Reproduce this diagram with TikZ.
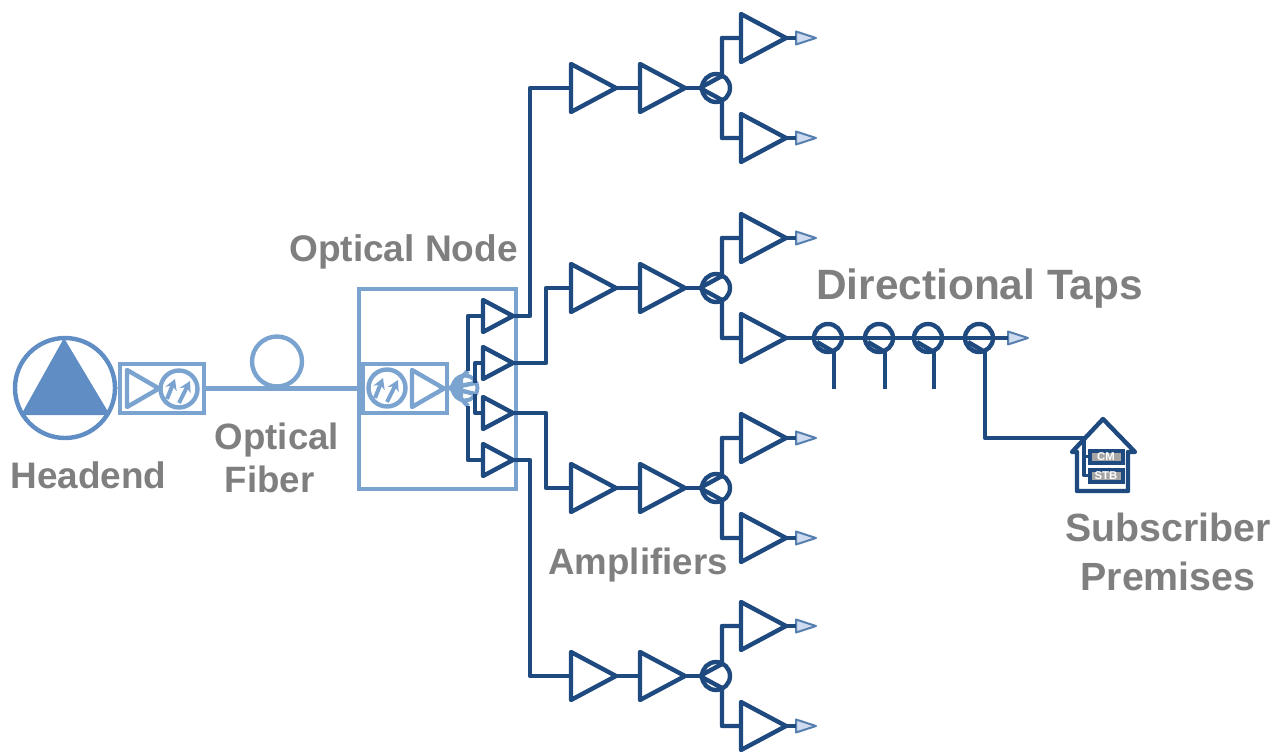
\documentclass[tikz,border=0pt]{standalone}
\usepackage{fontspec}
\setmainfont{Liberation Sans}
\usetikzlibrary{shapes.geometric,arrows.meta}
\definecolor{dkc}{HTML}{1F4A80}
\definecolor{ltc}{HTML}{7BA3CF}
\definecolor{mdc}{HTML}{5F8DC4}
\definecolor{tapf}{HTML}{CFDCEF}
\definecolor{labc}{HTML}{7F7F7F}
\tikzset{
  tri/.style={isosceles triangle,isosceles triangle apex angle=60,isosceles triangle stretches,inner sep=0pt,outer sep=0pt,shape border rotate=0,draw,line join=round},
  amp/.style={tri,draw=dkc,line width=3.3pt,minimum height=45*0.75pt,minimum width=48*0.75pt},
  namp/.style={tri,draw=dkc,line width=3.3pt,minimum height=30*0.75pt,minimum width=32*0.75pt},
  tapend/.style={tri,draw=ltc!60!dkc,fill=tapf,line width=1.5pt,minimum height=20*0.75pt,minimum width=13*0.75pt},
  ring/.style={circle,draw=dkc,line width=3.3pt,inner sep=0pt,minimum size=28*0.75pt},
  dkl/.style={draw=dkc,line width=3.3pt,line join=round},
  ltl/.style={draw=ltc,line width=3.3pt,line join=round},
  lbl/.style={text=labc,inner sep=0pt,align=center},
  dettri/.style={tri,draw=ltc,line width=3.3pt,minimum height=32*0.75pt,minimum width=37*0.75pt},
  det/.style={circle,draw=ltc,line width=3.3pt,inner sep=0pt,minimum size=37*0.75pt},
  ltbox/.style={rectangle,draw=ltc,line width=3.3pt,inner sep=0pt},
  pinbox/.style={rectangle,draw=dkc,line width=3pt,fill=labc!70,inner sep=0pt,minimum width=33*0.75pt,minimum height=12*0.75pt,text=white,font=\bfseries\fontsize{8.5}{9}\selectfont}
}
\newcommand{\detector}[3]{%
  \node[det] (#1) at (#2,#3) {};
  \draw[draw=ltc,line width=3pt,-{Stealth[length=8pt,width=9pt]}] (#2-12,#3+10) -- (#2-4,#3-10);
  \draw[draw=ltc,line width=3pt,-{Stealth[length=8pt,width=9pt]}] (#2,#3+14) -- (#2+11,#3-8);
}
\newcommand{\branch}[2]{%
  \node[amp,anchor=west] (a#1) at (571,#2) {};
  \node[amp,anchor=west] (b#1) at (640,#2) {};
  \node[ring] (s#1) at (716,#2) {};
  \draw[dkl] (a#1.apex) -- (b#1.west);
  \draw[dkl] (b#1.apex) -- (s#1.west);
  \node[amp,anchor=west] (u#1) at (741,#2-50) {};
  \node[amp,anchor=west] (l#1) at (741,#2+50) {};
  \coordinate (sa#1) at (722,#2-12);
  \coordinate (sb#1) at (722,#2+12);
  \draw[dkl] (s#1.west) -- (sa#1) -- (722,#2-50) -- (u#1.west);
  \draw[dkl] (s#1.west) -- (sb#1) -- (722,#2+50) -- (l#1.west);
  \node[tapend,anchor=west] (tu#1) at (796,#2-50) {};
  \draw[dkl] (u#1.apex) -- (tu#1.west);
}
\newcommand{\dirtap}[2]{%
  \node[ring] (d#1) at (#2,338) {};
  \coordinate (di#1) at (#2+6,352);
  \draw[dkl] (#2-11,342) -- (di#1);
}
\begin{document}
\begin{tikzpicture}[x=0.75pt,y=-0.75pt]
\useasboundingbox (0,0) rectangle (1275,752);
% headend
\node[circle,draw=mdc,line width=3.3pt,inner sep=0pt,minimum size=100*0.75pt] (he) at (65,388) {};
\fill[mdc,line join=round] (64,338) -- (110,415) -- (21,415) -- cycle;
\node[ltbox,minimum width=84*0.75pt,minimum height=49*0.75pt] (tx) at (162,388.5) {};
\node[dettri,anchor=west] (txa) at (127,388.5) {};
\detector{txd}{179}{389}
\draw[ltl] (he.east) -- (tx.west);
% fibre
\node[circle,draw=ltc,line width=3.3pt,inner sep=0pt,minimum size=50*0.75pt] (loop) at (277,361.5) {};
% node box
\node[ltbox,minimum width=157*0.75pt,minimum height=200*0.75pt] (onode) at (437.5,389) {};
\node[ltbox,minimum width=84*0.75pt,minimum height=49*0.75pt] (rx) at (405,388.5) {};
\detector{rxd}{387}{388}
\node[dettri,anchor=west] (rxa) at (412,388.5) {};
\draw[ltl] (tx.east) -- (rx.west);
% splitter in node
\node[circle,draw=ltc,line width=3pt,inner sep=0pt,minimum size=25*0.75pt] (nsp) at (465,388) {};
\draw[ltl] (rx.east) -- (nsp.west);
\coordinate (f1) at (468,371);
\coordinate (f2) at (475,383);
\coordinate (f3) at (475,394);
\coordinate (f4) at (468,406);
\foreach \f in {f1,f2,f3,f4} \draw[ltl] (nsp.west) -- (\f);
\begin{scope}
\clip (450,370) rectangle (463,406);
\fill[ltc] (nsp.center) circle (12);
\end{scope}
\node[namp,anchor=west] (n1) at (483,316) {};
\node[namp,anchor=west] (n2) at (483,363) {};
\node[namp,anchor=west] (n3) at (483,413) {};
\node[namp,anchor=west] (n4) at (483,460) {};
\draw[dkl] (f1) -- (468,316) -- (n1.west);
\draw[dkl] (f2) -- (475,363) -- (n2.west);
\draw[dkl] (f3) -- (475,413) -- (n3.west);
\draw[dkl] (f4) -- (468,460) -- (n4.west);
% branches
\branch{1}{88}
\branch{2}{288}
\branch{3}{488}
\branch{4}{676}
\draw[dkl] (n1.apex) -- (530,316) -- (530,88) -- (a1.west);
\draw[dkl] (n2.apex) -- (546,363) -- (546,288) -- (a2.west);
\draw[dkl] (n3.apex) -- (546,413) -- (546,488) -- (a3.west);
\draw[dkl] (n4.apex) -- (530,460) -- (530,676) -- (a4.west);
\node[tapend,anchor=west] (tl1) at (796,138) {};
\draw[dkl] (l1.apex) -- (tl1.west);
\node[tapend,anchor=west] (tl3) at (796,538) {};
\draw[dkl] (l3.apex) -- (tl3.west);
\node[tapend,anchor=west] (tl4) at (796,726) {};
\draw[dkl] (l4.apex) -- (tl4.west);
% taps
\dirtap{1}{828}
\dirtap{2}{879}
\dirtap{3}{928}
\dirtap{4}{979}
\node[tapend,anchor=west] (tl2) at (1008,338) {};
\draw[dkl] (l2.apex) -- (tl2.west);
\coordinate (e1) at (834,389);
\coordinate (e2) at (885,389);
\coordinate (e3) at (934,389);
\draw[dkl] (di1) -- (e1);
\draw[dkl] (di2) -- (e2);
\draw[dkl] (di3) -- (e3);
% house
\node[pinbox] (cm) at (1106,456.5) {CM};
\node[pinbox] (stb) at (1106,475.5) {STB};
\draw[dkl] (1077,452) -- (1072,452) -- (1103,419) -- (1135,452) -- (1128,452) -- (1128,491) -- (1077,491) -- cycle;
\coordinate (hj) at (1084,438);
\draw[dkl] (di4) -- (985,438) -- (hj);
\draw[dkl,line width=2.5pt] (hj) -- (1084,475.5) -- (stb.west);
\draw[dkl,line width=2.5pt] (1084,456.5) -- (cm.west);
% labels
\node[lbl,font=\bfseries\fontsize{27.8}{32}\selectfont] (tn) at (403.5,252) {Optical Node};
\node[lbl,font=\bfseries\fontsize{27.5}{32}\selectfont] (tf) at (277,458) {Optical\\Fiber\hspace*{11pt}};
\node[lbl,font=\bfseries\fontsize{27.7}{30}\selectfont] (th) at (88.5,475) {Headend};
\node[lbl,font=\bfseries\fontsize{31.8}{35}\selectfont] (td) at (979.5,288.5) {Directional Taps};
\node[lbl,font=\bfseries\fontsize{27.5}{30}\selectfont] (ta) at (638,565) {Amplifiers};
\node[lbl,font=\bfseries\fontsize{29.5}{37}\selectfont] (ts) at (1168,552) {Subscriber\\Premises};
\end{tikzpicture}
\end{document}
